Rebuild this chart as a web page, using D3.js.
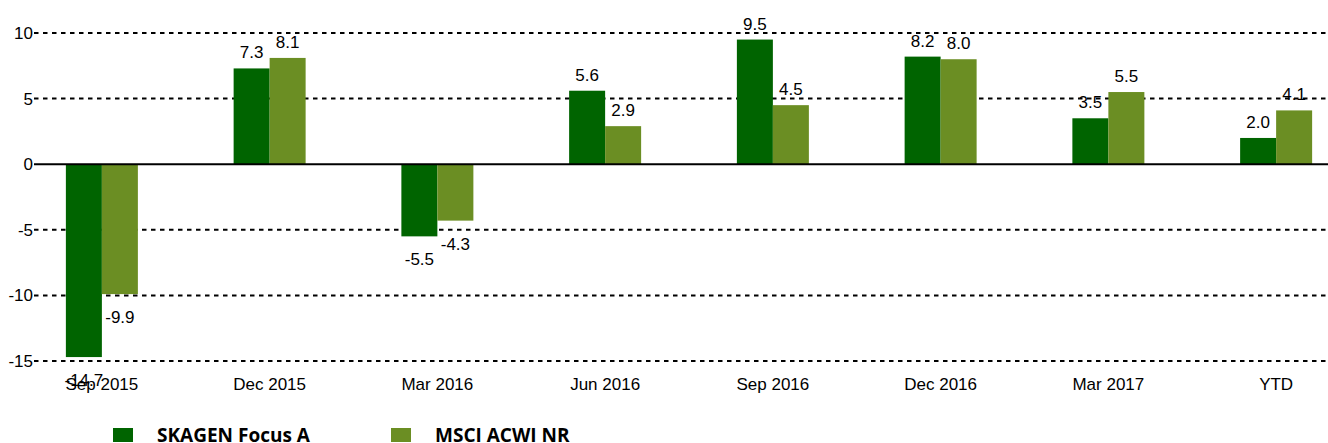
<!DOCTYPE html>
<html><head><meta charset="utf-8">
<script src="https://cdn.jsdelivr.net/npm/d3@7"></script>
<style>body{margin:0;background:#fff}svg{display:block}</style>
</head><body>
<svg id="c" width="1328" height="443"></svg>
<script>
const categories = ["Sep 2015","Dec 2015","Mar 2016","Jun 2016","Sep 2016","Dec 2016","Mar 2017","YTD"];
const seriesNames = ["SKAGEN Focus A","MSCI ACWI NR"];
const focusA = [-14.7, 7.3, -5.5, 5.6, 9.5, 8.2, 3.5, 2.0];
const msci = [-9.9, 8.1, -4.3, 2.9, 4.5, 8.0, 5.5, 4.1];
const yTicks = [-15, -10, -5, 0, 5, 10];
const colors = ["#006400", "#6B8E23"];

const FONT = "Liberation Sans, Arial, sans-serif";
const FS = 17;

const svg = d3.select("#c");
const x = d3.scaleBand().domain(categories).range([18, 1360]);
const xs = d3.scaleBand().domain(seriesNames).range([-36, 36]);
const y = d3.scaleLinear().domain([-15, 10]).range([361, 33]);

// gridlines
svg.append("g").selectAll("line").data(yTicks.filter(d => d !== 0)).join("line")
  .attr("x1", 34).attr("x2", 1328)
  .attr("y1", d => y(d)).attr("y2", d => y(d))
  .attr("stroke", "#000").attr("stroke-width", 2).attr("stroke-dasharray", "4.5,4.5");

// tick labels
svg.append("g").selectAll("text").data(yTicks).join("text")
  .attr("x", 33).attr("y", d => y(d)).attr("dy", "0.35em")
  .attr("text-anchor", "end")
  .attr("font-family", FONT).attr("font-size", FS)
  .attr("fill", "#000").text(d => d);

const data = [focusA, msci];
const g = svg.append("g");
seriesNames.forEach((s, si) => {
  const vals = data[si];
  g.append("g").selectAll("rect").data(vals).join("rect")
    .attr("x", (d, i) => x(categories[i]) + x.bandwidth() / 2 + xs(s))
    .attr("width", xs.bandwidth())
    .attr("y", d => y(Math.max(0, d)))
    .attr("height", d => Math.abs(y(d) - y(0)))
    .attr("fill", colors[si]);
});

// zero line
svg.append("line").attr("x1", 34).attr("x2", 1328)
  .attr("y1", y(0)).attr("y2", y(0))
  .attr("stroke", "#000").attr("stroke-width", 2);

// value labels
seriesNames.forEach((s, si) => {
  const vals = data[si];
  svg.append("g").selectAll("text").data(vals).join("text")
    .attr("x", (d, i) => x(categories[i]) + x.bandwidth() / 2 + xs(s) + xs.bandwidth() / 2)
    .attr("y", d => d >= 0 ? y(d) - 10 : y(d) + 29)
    .attr("text-anchor", "middle")
    .attr("font-family", FONT).attr("font-size", FS)
    .attr("fill", "#000").text(d => d.toFixed(1));
});

// x labels
svg.append("g").selectAll("text").data(categories).join("text")
  .attr("x", d => x(d) + x.bandwidth() / 2).attr("y", 390)
  .attr("text-anchor", "middle")
  .attr("font-family", FONT).attr("font-size", FS)
  .attr("fill", "#000").text(d => d);

// legend
const legX = [113, 391];
const lg = svg.append("g").selectAll("g").data(seriesNames).join("g")
  .attr("transform", (d, i) => `translate(${legX[i]},0)`);
lg.append("rect").attr("x", 0).attr("y", 428).attr("width", 20).attr("height", 14)
  .attr("fill", (d, i) => colors[i]);
lg.append("text").attr("x", 44).attr("y", 441.5)
  .attr("font-family", "Open Sans, sans-serif").attr("font-weight", "bold").attr("font-size", 19)
  .attr("fill", "#000").text(d => d);
</script>
</body></html>
